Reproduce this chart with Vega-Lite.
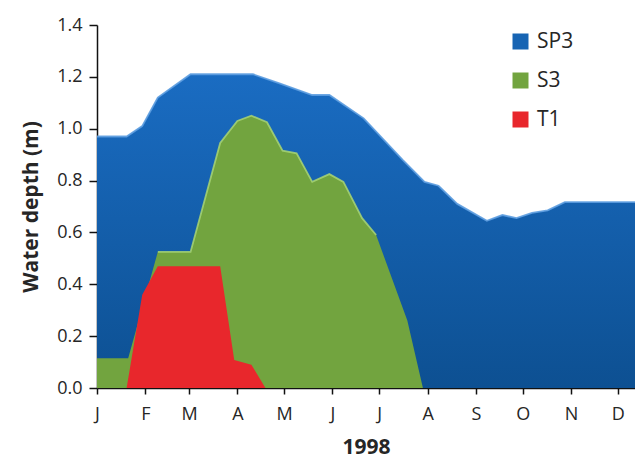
{
  "$schema": "https://vega.github.io/schema/vega-lite/v6.json",
  "width": 538,
  "height": 363,
  "autosize": {"type": "none"},
  "padding": {"left": 97, "top": 25, "right": 0, "bottom": 88},
  "background": "white",
  "config": {
    "view": {"stroke": null},
    "font": "Open Sans",
    "axis": {
      "domainColor": "#111",
      "domainWidth": 1.5,
      "tickColor": "#111",
      "tickWidth": 1.5,
      "grid": false,
      "labelColor": "#262626",
      "labelFont": "Open Sans",
      "labelFontSize": 18,
      "titleColor": "#262626",
      "titleFont": "Open Sans",
      "titleFontWeight": "bold",
      "titleFontSize": 21
    },
    "legend": {
      "padding": 0,
      "labelFont": "Open Sans",
      "labelFontSize": 21,
      "labelColor": "#262626",
      "symbolType": "square",
      "symbolSize": 256,
      "symbolStrokeWidth": 0,
      "symbolOpacity": 1,
      "rowPadding": 17,
      "labelOffset": 6
    }
  },
  "data": {
    "values": [
      {"series": "SP3", "date": "1998-01-01", "depth": 0.97},
      {"series": "SP3", "date": "1998-01-20", "depth": 0.97},
      {"series": "SP3", "date": "1998-01-30", "depth": 1.01},
      {"series": "SP3", "date": "1998-02-09", "depth": 1.12},
      {"series": "SP3", "date": "1998-03-02", "depth": 1.21},
      {"series": "SP3", "date": "1998-04-11", "depth": 1.21},
      {"series": "SP3", "date": "1998-04-28", "depth": 1.175},
      {"series": "SP3", "date": "1998-05-19", "depth": 1.13},
      {"series": "SP3", "date": "1998-05-30", "depth": 1.13},
      {"series": "SP3", "date": "1998-06-21", "depth": 1.04},
      {"series": "SP3", "date": "1998-07-16", "depth": 0.88},
      {"series": "SP3", "date": "1998-07-30", "depth": 0.795},
      {"series": "SP3", "date": "1998-08-08", "depth": 0.78},
      {"series": "SP3", "date": "1998-08-20", "depth": 0.71},
      {"series": "SP3", "date": "1998-09-08", "depth": 0.645},
      {"series": "SP3", "date": "1998-09-18", "depth": 0.667},
      {"series": "SP3", "date": "1998-09-27", "depth": 0.655},
      {"series": "SP3", "date": "1998-10-07", "depth": 0.675},
      {"series": "SP3", "date": "1998-10-17", "depth": 0.685},
      {"series": "SP3", "date": "1998-10-28", "depth": 0.717},
      {"series": "SP3", "date": "1998-12-12", "depth": 0.717},
      {"series": "S3", "date": "1998-01-01", "depth": 0.115},
      {"series": "S3", "date": "1998-01-21", "depth": 0.115},
      {"series": "S3", "date": "1998-02-09", "depth": 0.525},
      {"series": "S3", "date": "1998-03-02", "depth": 0.525},
      {"series": "S3", "date": "1998-03-21", "depth": 0.945},
      {"series": "S3", "date": "1998-04-01", "depth": 1.03},
      {"series": "S3", "date": "1998-04-10", "depth": 1.05},
      {"series": "S3", "date": "1998-04-20", "depth": 1.025},
      {"series": "S3", "date": "1998-04-30", "depth": 0.915},
      {"series": "S3", "date": "1998-05-09", "depth": 0.905},
      {"series": "S3", "date": "1998-05-19", "depth": 0.795},
      {"series": "S3", "date": "1998-05-30", "depth": 0.825},
      {"series": "S3", "date": "1998-06-08", "depth": 0.795},
      {"series": "S3", "date": "1998-06-20", "depth": 0.655},
      {"series": "S3", "date": "1998-06-29", "depth": 0.59},
      {"series": "S3", "date": "1998-07-19", "depth": 0.26},
      {"series": "S3", "date": "1998-07-29", "depth": 0},
      {"series": "T1", "date": "1998-01-20", "depth": 0},
      {"series": "T1", "date": "1998-01-30", "depth": 0.36},
      {"series": "T1", "date": "1998-02-09", "depth": 0.47},
      {"series": "T1", "date": "1998-03-21", "depth": 0.47},
      {"series": "T1", "date": "1998-03-30", "depth": 0.108},
      {"series": "T1", "date": "1998-04-10", "depth": 0.09},
      {"series": "T1", "date": "1998-04-19", "depth": 0}
    ]
  },
  "encoding": {
    "x": {
      "field": "date",
      "type": "temporal",
      "scale": {
        "type": "utc",
        "domain": [
          {"year": 1998, "month": 1, "date": 1, "utc": true},
          {"year": 1998, "month": 12, "date": 12, "utc": true}
        ]
      },
      "axis": {
        "title": "1998",
        "values": [
          {"year": 1998, "month": 1, "date": 1, "utc": true},
          {"year": 1998, "month": 2, "date": 1, "utc": true},
          {"year": 1998, "month": 3, "date": 1, "utc": true},
          {"year": 1998, "month": 4, "date": 1, "utc": true},
          {"year": 1998, "month": 5, "date": 1, "utc": true},
          {"year": 1998, "month": 6, "date": 1, "utc": true},
          {"year": 1998, "month": 7, "date": 1, "utc": true},
          {"year": 1998, "month": 8, "date": 1, "utc": true},
          {"year": 1998, "month": 9, "date": 1, "utc": true},
          {"year": 1998, "month": 10, "date": 1, "utc": true},
          {"year": 1998, "month": 11, "date": 1, "utc": true},
          {"year": 1998, "month": 12, "date": 1, "utc": true}
        ],
        "labelExpr": "slice(utcFormat(datum.value, '%b'), 0, 1)",
        "tickSize": 6,
        "labelPadding": 11,
        "labelFlush": false,
        "labelOverlap": false,
        "titlePadding": 13
      }
    },
    "y": {
      "field": "depth",
      "type": "quantitative",
      "stack": null,
      "scale": {"domain": [0, 1.4], "nice": false},
      "axis": {
        "title": "Water depth (m)",
        "values": [0, 0.2, 0.4, 0.6, 0.8, 1.0, 1.2, 1.4],
        "format": ".1f",
        "tickSize": 8,
        "labelPadding": 7,
        "titlePadding": 15
      }
    }
  },
  "layer": [
    {
      "transform": [{"filter": "datum.series === 'SP3'"}],
      "mark": {
        "type": "area",
        "fill": {
          "gradient": "linear",
          "x1": 0, "y1": 0, "x2": 0, "y2": 1,
          "stops": [
            {"offset": 0, "color": "#1a6cc2"},
            {"offset": 1, "color": "#0d5092"}
          ]
        }
      }
    },
    {
      "transform": [{"filter": "datum.series === 'SP3'"}],
      "mark": {"type": "line", "stroke": "#5d9de0", "strokeWidth": 1.8, "opacity": 0.9}
    },
    {
      "transform": [{"filter": "datum.series === 'S3'"}],
      "mark": {"type": "area", "fill": "#72a43f"}
    },
    {
      "transform": [{"filter": "datum.series === 'S3' && datum.depth > 0.3"}],
      "mark": {"type": "line", "stroke": "#a8d574", "strokeWidth": 1.8, "opacity": 0.85}
    },
    {
      "transform": [{"filter": "datum.series === 'T1'"}],
      "mark": {"type": "area", "fill": "#e8272c"}
    },
    {
      "mark": {"type": "point", "shape": "square", "filled": true, "size": 0, "opacity": 1},
      "encoding": {
        "color": {
          "field": "series",
          "type": "nominal",
          "scale": {"domain": ["SP3", "S3", "T1"], "range": ["#1764b3", "#72a43f", "#e8272c"]},
          "legend": {"title": null, "orient": "none", "legendX": 413, "legendY": 6}
        }
      }
    }
  ]
}
